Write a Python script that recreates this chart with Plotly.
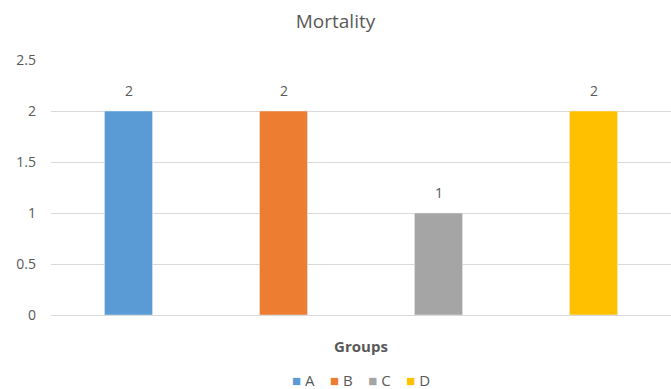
import plotly.graph_objects as go

categories = ["A", "B", "C", "D"]
values = [2, 2, 1, 2]
colors = ["#5B9BD5", "#ED7D31", "#A5A5A5", "#FFC000"]
y_ticks = [0, 0.5, 1, 1.5, 2, 2.5]
y_tick_labels = ["0", "0.5", "1", "1.5", "2", "2.5"]

font = "Open Sans, Liberation Sans, sans-serif"
fig = go.Figure()
for cat, val, col in zip(categories, values, colors):
    fig.add_trace(go.Bar(
        x=[cat], y=[val], name=cat, marker_color=col, width=0.31,
    ))
    fig.add_annotation(x=cat, y=val, text=str(val), showarrow=False,
                       yanchor="bottom", yshift=9,
                       font=dict(color="#595959", size=14, family=font))

legend_text = "&nbsp;&nbsp;&nbsp;&nbsp;".join(
    f"<span style='color:{c}; font-size:15px'>■</span>&nbsp;{cat}" for cat, c in zip(categories, colors)
)
fig.add_annotation(xref="paper", yref="paper", x=0.5, y=-0.255, xanchor="center",
                   yanchor="middle", text=legend_text, showarrow=False,
                   font=dict(size=15, color="#595959", family=font))

fig.update_layout(
    width=671, height=389,
    margin=dict(l=51, r=0, t=60, b=74),
    paper_bgcolor="white", plot_bgcolor="white",
    barmode="overlay",
    font=dict(family=font, color="#595959", size=13),
    title=dict(text="Mortality", x=0.5, xanchor="center", y=0.945, yanchor="middle",
               font=dict(size=19, color="#595959", family=font)),
    showlegend=False,
    xaxis=dict(showticklabels=False, showgrid=False, showline=True, linecolor="#D9D9D9",
               linewidth=1, ticks="", categoryorder="array", categoryarray=categories,
               title=dict(text="<b>Groups</b>", standoff=26,
                          font=dict(size=15, color="#595959"))),
    yaxis=dict(range=[0, 2.5], tickvals=y_ticks, ticktext=y_tick_labels,
               showgrid=True, gridcolor="#D9D9D9", gridwidth=1, zeroline=False,
               ticks="", ticklabelstandoff=14, tickfont=dict(size=14, color="#595959")),
)

fig.write_html("out.html")
